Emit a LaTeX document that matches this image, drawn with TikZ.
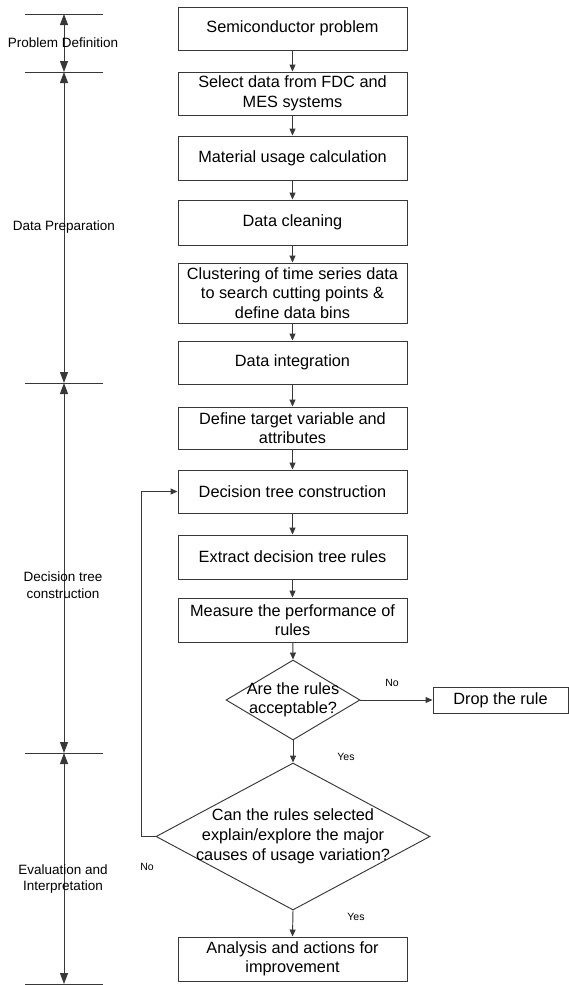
\documentclass[tikz,border=0pt]{standalone}
\usepackage{fontspec}
\setmainfont{Liberation Sans}
\usetikzlibrary{shapes.geometric,arrows.meta}
\begin{document}
\begin{tikzpicture}[x=1pt,y=-1pt,
  linecol/.style={draw=black!78, line width=0.95pt},
  stepbox/.style={linecol, rectangle, minimum width=229pt, inner sep=0pt, align=center,
    font=\fontsize{16.3}{19.5}\selectfont},
  decision/.style={linecol, diamond, inner sep=0pt},
  dtext/.style={align=center, inner sep=0pt, font=\fontsize{16.3}{19.5}\selectfont},
  flow/.style={linecol, -{Triangle[length=7pt,width=6pt]}},
  axisarrow/.style={linecol, {Triangle[length=11pt,width=8pt]}-{Triangle[length=11pt,width=8pt]}},
  tick/.style={linecol},
  phase/.style={align=center, inner sep=0pt, font=\fontsize{13.5}{16.5}\selectfont},
  small/.style={inner sep=0pt, font=\fontsize{10.5}{12}\selectfont}
]
\useasboundingbox (0,0) rectangle (569,985);

% flow boxes
\node[stepbox, minimum height=43pt] (b1) at (292.5,28.5) {Semiconductor problem};
\node[stepbox, minimum height=43pt] (b2) at (292.5,93.5) {Select data from FDC and\\MES systems};
\node[stepbox, minimum height=44pt] (b3) at (292.5,158) {Material usage calculation};
\node[stepbox, minimum height=45pt] (b4) at (292.5,222.5) {Data cleaning};
\node[stepbox, minimum height=60pt] (b5) at (292.5,293) {Clustering of time series data\\to search cutting points \&\\define data bins};
\node[stepbox, minimum height=43pt] (b6) at (292.5,362.5) {Data integration};
\node[stepbox, minimum height=42pt] (b7) at (292.5,428) {Define target variable and\\attributes};
\node[stepbox, minimum height=43pt] (b8) at (292.5,491.5) {Decision tree construction};
\node[stepbox, minimum height=44pt] (b9) at (292.5,557) {Extract decision tree rules};
\node[stepbox, minimum height=44pt] (b10) at (292.5,620) {Measure the performance of\\rules};
\node[decision, minimum width=134pt, minimum height=80pt] (d1) at (293,700) {};
\node[dtext] at (d1) {Are the rules\\acceptable?};
\node[stepbox, minimum width=135pt, minimum height=26pt] (drop) at (500.5,700) {Drop the rule};
\node[decision, minimum width=274pt, minimum height=147pt] (d2) at (293,836.5) {};
\node[dtext, font=\fontsize{16.3}{20}\selectfont] at (d2) {Can the rules selected\\explain/explore the major\\causes of usage variation?};
\node[stepbox, minimum height=44pt] (b11) at (292.5,959) {Analysis and actions for\\improvement};

% connectors
\draw[flow] (b1) -- (b2);
\draw[flow] (b2) -- (b3);
\draw[flow] (b3) -- (b4);
\draw[flow] (b4) -- (b5);
\draw[flow] (b5) -- (b6);
\draw[flow] (b6) -- (b7);
\draw[flow] (b7) -- (b8);
\draw[flow] (b8) -- (b9);
\draw[flow] (b9) -- (b10);
\draw[flow] (b10) -- (d1.north);
\draw[flow] (d1.east) -- (drop.west);
\draw[flow] (d1.south) -- (d2.north);
\draw[flow] (d2.south) -- (b11.north);
\draw[flow] (d2.west) -- ++(-14,0) |- (b8.west);

\node[small] (no1) at (392,683) {No};
\node[small] (yes1) at (346,757) {Yes};
\node[small] (no2) at (147,867) {No};
\node[small] (yes2) at (356,917) {Yes};

% phase axis
\coordinate (t1) at (64,14);
\coordinate (t2) at (64,72);
\coordinate (t3) at (64,383);
\coordinate (t4) at (64,753);
\coordinate (t5) at (64,984);
\foreach \t in {t1,t2,t3,t4,t5}{
  \draw[tick] ([xshift=-39pt]\t) -- ([xshift=39pt]\t);
}
\draw[axisarrow] (t1) -- (t2);
\draw[axisarrow] (t2) -- (t3);
\draw[axisarrow] (t3) -- (t4);
\draw[axisarrow] (t4) -- (t5);

\node[phase] (p1) at (63,43) {Problem Definition};
\node[phase] (p2) at (64,227) {Data Preparation};
\node[phase] (p3) at (63,585) {Decision tree\\construction};
\node[phase] (p4) at (63,879) {Evaluation and\\Interpretation};
\end{tikzpicture}
\end{document}
